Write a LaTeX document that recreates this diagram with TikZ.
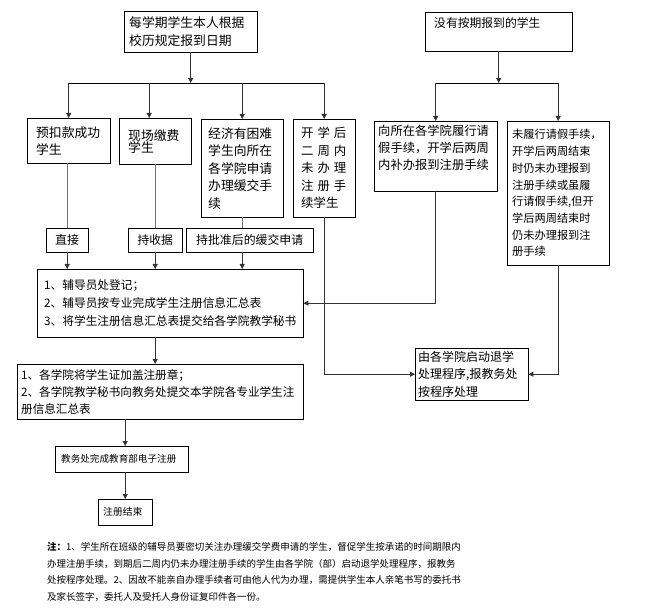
\documentclass[tikz,border=0pt]{standalone}
\usepackage{fontspec}
\setmainfont{Noto Sans CJK SC}
\usetikzlibrary{arrows.meta,positioning}

\tikzset{
  box/.style={draw, anchor=north west, align=left, inner xsep=5pt, inner ysep=0pt,
    font=\fontsize{12}{18}\selectfont},
  link/.style={draw=black!55, line width=1.2pt},
  arrow/.style={draw=black!80, line width=0.8pt, -{Triangle[length=5pt,width=5pt]}},
  bus/.style={draw=black, line width=0.8pt},
}

\begin{document}
\begin{tikzpicture}[x={(1pt,0)}, y={(0,-1pt)}]
\useasboundingbox (0,0) rectangle (649,615);

% Starting points
\node[box,
    minimum width=133pt,
    minimum height=41pt,
    text width=123pt,
    font=\fontsize{12.8}{18}\selectfont] (start) at (124,11) {每学期学生本人根据\\校历规定报到日期};

\node[box,
    minimum width=147pt,
    minimum height=39pt,
    text width=137pt,
    inner xsep=9pt,
    text width=129pt,
    font=\fontsize{11.8}{18}\selectfont] (late) at (425,12) {没有按期报到的学生\\\mbox{}};

% Branches of the first column
\node[box,
    minimum width=83pt,
    minimum height=45pt,
    inner xsep=9pt,
    text width=65pt,
    font=\fontsize{12.8}{17}\selectfont] (prepaid) at (27,118) {预扣款成功\\学生};

\node[box,
    minimum width=72pt,
    minimum height=46pt,
    inner xsep=9pt,
    text width=54pt,
    font=\fontsize{12.8}{12}\selectfont] (onsite) at (119,118) {现场缴费\\学生};

\node[box,
    minimum width=82pt,
    minimum height=98pt,
    inner xsep=7pt,
    text width=68pt,
    font=\fontsize{12.8}{17.5}\selectfont] (defer) at (201,119)
    {经济有困难\\学生向所在\\各学院申请\\办理缓交手\\续};

\node[box,
    minimum width=62pt,
    minimum height=98pt,
    inner xsep=8pt,
    text width=46pt,
    font=\fontsize{12.4}{17.5}\selectfont] (unreg) at (293,119)
    {开\hspace{4pt}学\hspace{4pt}后\\二\hspace{4pt}周\hspace{4pt}内\\未\hspace{4pt}办\hspace{4pt}理\\注\hspace{4pt}册\hspace{4pt}手\\续学生};

% Branches of the second column
\node[box,
    minimum width=123pt,
    minimum height=70pt,
    inner xsep=4pt,
    text width=115pt,
    font=\fontsize{12.3}{17}\selectfont] (leave) at (374,121)
    {向所在各学院履行请\\假手续，开学后两周\\内补办报到注册手续\\\mbox{}};

\node[box,
    minimum width=102pt,
    minimum height=144pt,
    inner xsep=5pt,
    text width=92pt,
    font=\fontsize{11.2}{16.7}\selectfont] (noleave) at (507,121)
    {未履行请假手续，\\开学后两周结束\\时仍未办理报到\\注册手续或虽履\\行请假手续,但开\\学后两周结束时\\仍未办理报到注\\册手续};

% Documents
\node[box,
    minimum width=42pt,
    minimum height=24pt,
    align=center,
    text width=36pt,
    inner xsep=3pt] (direct) at (46,228) {直接};

\node[box,
    minimum width=54pt,
    minimum height=24pt,
    align=center,
    text width=48pt,
    inner xsep=3pt,
    font=\fontsize{11.7}{18}\selectfont] (receipt) at (128,228) {持收据};

\node[box,
    minimum width=127pt,
    minimum height=24pt,
    align=center,
    text width=121pt,
    inner xsep=3pt,
    font=\fontsize{11.9}{18}\selectfont] (approved) at (186,228) {持批准后的缓交申请};

% Registration steps
\node[box,
    minimum width=266pt,
    minimum height=68pt,
    inner xsep=7pt,
    text width=252pt,
    font=\fontsize{11.7}{18}\selectfont] (counsel) at (37,269)
    {1、辅导员处登记；\\2、辅导员按专业完成学生注册信息汇总表\\3、将学生注册信息汇总表提交给各学院教学秘书};

\node[box,
    minimum width=286pt,
    minimum height=55pt,
    inner xsep=4pt,
    text width=278pt,
    font=\fontsize{11.6}{17}\selectfont] (college) at (17,364)
    {1、各学院将学生证加盖注册章；\\2、各学院教学秘书向教务处提交本学院各专业学生注\\册信息汇总表};

\node[box,
    minimum width=113pt,
    minimum height=52pt,
    inner xsep=3pt,
    text width=107pt,
    font=\fontsize{12}{17.5}\selectfont] (dropout) at (415,348)
    {由各学院启动退学\\处理程序,报教务处\\按程序处理};

\node[box,
    minimum width=133pt,
    minimum height=26pt,
    inner xsep=6pt,
    text width=121pt,
    font=\fontsize{9.6}{14}\selectfont] (ministry) at (55,446) {教务处完成教育部电子注册};

\node[box,
    minimum width=54pt,
    minimum height=26pt,
    inner xsep=5pt,
    text width=44pt,
    font=\fontsize{9.8}{14}\selectfont] (finish) at (98,499) {注册结束};

% Note
\node[anchor=west, align=left, inner sep=0pt,
    font=\fontsize{9.5}{16.7}\selectfont] (note) at (47,572)
    {\textbf{注：}1、学生所在班级的辅导员要密切关注办理缓交学费申请的学生，督促学生按承诺的时间期限内\\
     办理注册手续，到期后二周内仍未办理注册手续的学生由各学院（部）启动退学处理程序，报教务\\
     处按程序处理。2、因故不能亲自办理手续者可由他人代为办理，需提供学生本人亲笔书写的委托书\\
     及家长签字，委托人及受托人身份证复印件各一份。};

% Splits
\coordinate (split1) at (start.south|-0,83);
\coordinate (split2) at (late.south|-0,83);

% Arrows
\draw[arrow] (start) -- (split1);
\draw[bus] (prepaid.north|-split1) -- (unreg.north|-split1);
\draw[arrow] (prepaid.north|-split1) -- (prepaid.north);
\draw[arrow] ([xshift=-6pt]onsite.north|-split1) -- ([xshift=-6pt]onsite.north);
\draw[arrow] (defer.north|-split1) -- (defer.north);
\draw[arrow] (unreg.north|-split1) -- (unreg.north);

\draw[arrow] (late) -- (split2);
\draw[bus] (leave.north|-split2) -- (noleave.north|-split2);
\draw[arrow] (leave.north|-split2) -- (leave.north);
\draw[arrow] (noleave.north|-split2) -- (noleave.north);

\draw[link] (prepaid.south-|direct) -- (direct);
\draw[link] (onsite) -- (receipt);
\draw[link] (defer.south) -- (defer.south|-approved.north);

\draw[arrow] (direct) -- (direct|-counsel.north);
\draw[arrow] (receipt) -- (receipt|-counsel.north);
\draw[arrow] (defer.south|-approved.south) -- (defer.south|-counsel.north);

\draw[arrow] (leave.south) |- (counsel.east);
\draw[arrow] (unreg.south) |- (dropout.west);
\draw[arrow] (noleave.south) |- (dropout.east);

\draw[arrow] (receipt|-counsel.south) -- (receipt|-college.north);
\draw[arrow] (finish.north|-college.south) -- (finish.north|-ministry.north);
\draw[arrow] (finish.north|-ministry.south) -- (finish.north);

\end{tikzpicture}
\end{document}
